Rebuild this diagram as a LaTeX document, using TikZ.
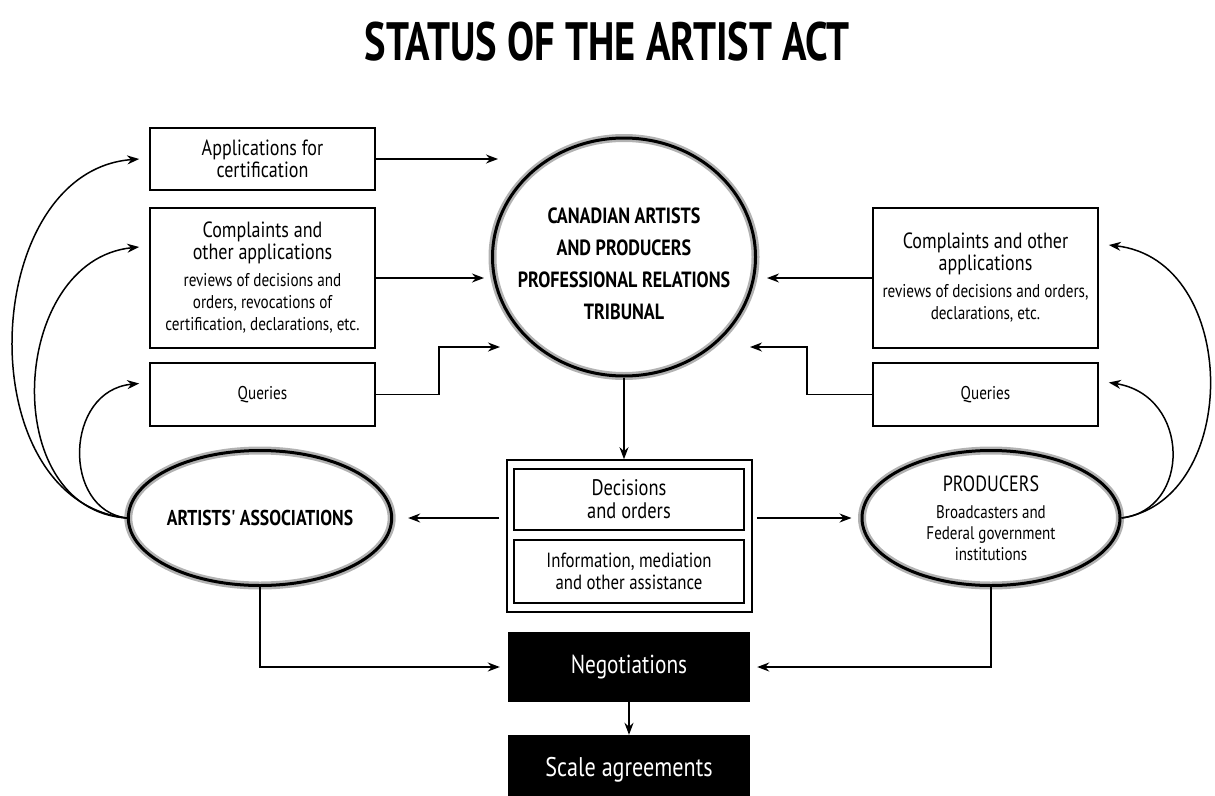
\documentclass[tikz,border=0pt]{standalone}
\usepackage{fontspec}
\setmainfont{PT Sans}
\newfontfamily\narrowfont{PT Sans}[FakeStretch=0.82]
\newfontfamily\titlefont{PT Sans}[FakeStretch=0.75]
\newcommand\smalltext{\fontsize{18.5}{21}\selectfont}
\usetikzlibrary{arrows.meta,shapes.geometric}
\tikzset{
    info-box/.style = {draw, line width=1.6pt, rectangle, minimum width=225pt, inner sep=2pt, align=center, font=\narrowfont\fontsize{22}{22}\selectfont},
    inner-box/.style = {draw, line width=1.6pt, rectangle, minimum width=230pt, inner sep=2pt, align=center, font=\narrowfont\fontsize{22.5}{23}\selectfont},
    oval-node/.style = {ellipse, draw, line width=3pt, inner sep=0pt, preaction={draw=black!30, line width=8pt}, align=center},
    dark-box/.style = {fill=black, text=white, minimum width=242pt, minimum height=70pt, font=\narrowfont\fontsize{26}{28}\selectfont},
    flow/.style = {-{Stealth[length=12pt,width=9pt]}, line width=1.5pt},
}

\begin{document}
\begin{tikzpicture}[x=1pt,y=-1pt]
\useasboundingbox (0,0) rectangle (1215,795);
\clip (0,0) rectangle (1215,795);
\node[font=\titlefont\bfseries\fontsize{54}{60}\selectfont] (title) at (607,42) {STATUS OF THE ARTIST ACT};

% tribunal
\node[oval-node, minimum width=263pt, minimum height=238pt, inner xsep=-45pt, inner ysep=-10pt, font=\narrowfont\bfseries\fontsize{22}{32}\selectfont] (trib) at (624,257)
    {\\[-3pt]CANADIAN ARTISTS\\AND PRODUCERS\\PROFESSIONAL RELATIONS\\TRIBUNAL};

% left column
\node[info-box, minimum height=62pt] (app) at (262.5,159) {Applications for\\certification};
\node[info-box, minimum height=140pt] (compl-l) at (262.5,278)
    {Complaints and\\other applications\\[5pt]\smalltext reviews of decisions and\\\smalltext orders, revocations of\\\smalltext certification, declarations, etc.};
\node[info-box, minimum height=63pt, font=\narrowfont\smalltext] (query-l) at (262.5,394.5) {Queries};

% right column
\node[info-box, minimum height=140pt] (compl-r) at (985.5,278)
    {Complaints and other\\applications\\[5pt]\smalltext reviews of decisions and orders,\\\smalltext declarations, etc.};
\node[info-box, minimum height=63pt, font=\narrowfont\smalltext] (query-r) at (985.5,394.5) {Queries};

% parties
\node[oval-node, minimum width=256pt, minimum height=135pt, font=\narrowfont\bfseries\fontsize{21.5}{24}\selectfont] (art) at (260,518) {ARTISTS' ASSOCIATIONS};
\node[oval-node, minimum width=258pt, minimum height=135pt, font=\narrowfont\fontsize{22}{21}\selectfont] (prod) at (991,518)
    {PRODUCERS\\[6pt]\fontsize{18.3}{21}\selectfont Broadcasters and\\\fontsize{18.3}{21}\selectfont Federal government\\\fontsize{18.3}{21}\selectfont institutions};

% decisions
\node[draw, line width=1.6pt, minimum width=245pt, minimum height=152pt] (dec-frame) at (629.5,536) {};
\node[inner-box, minimum height=61pt] (dec) at (629,499.5) {Decisions\\and orders};
\node[inner-box, minimum height=63pt, font=\narrowfont\fontsize{20.5}{22}\selectfont] (info) at (629,571.5) {Information, mediation\\and other assistance};

% negotiations
\node[dark-box] (neg) at (629,667) {Negotiations};
\node[dark-box, font=\narrowfont\fontsize{27}{28}\selectfont] (scale) at (629,770) {Scale agreements};

\coordinate (q-in-l) at (500,347);
\coordinate (q-in-r) at (750,347);

% into the tribunal
\draw[flow] (app.east) -- ([xshift=7pt]app.east -| trib.west);
\draw[flow, shorten >=7pt] (compl-l.east) -- (compl-l.east -| trib.west);
\draw[flow] (query-l.east) -- ++(63,0) |- (q-in-l);
\draw[flow, shorten >=10pt] (compl-r.west) -- (compl-r.west -| trib.east);
\draw[flow] (query-r.west) -- ++(-65,0) |- (q-in-r);

% out of the tribunal
\draw[flow] (trib.south) -- (trib.south |- dec-frame.north);
\draw[flow, shorten <=7pt, shorten >=15pt] (art.east -| dec-frame.west) -- (art.east);
\draw[flow, shorten <=4pt, shorten >=9pt] (prod.west -| dec-frame.east) -- (prod.west);
\draw[flow, shorten >=8pt] (art.south) |- (neg.west);
\draw[flow, shorten >=7pt] (prod.south) |- (neg.east);
\draw[flow] (neg.south) -- (scale.north);

% curved arrows from the parties
\draw[flow] (art.west) .. controls +(-160,-18) and +(-160,12) .. ([xshift=-10pt]app.west);
\draw[flow] (art.west) .. controls +(-130,-8) and +(-130,13) .. ([xshift=-10pt,yshift=31pt]compl-l.west);
\draw[flow] (art.west) .. controls +(-65,-8) and +(-75,7) .. ([xshift=-10pt,yshift=11pt]query-l.west);
\draw[flow] (prod.east) .. controls +(120,-18) and +(132,15) .. ([xshift=10pt,yshift=33pt]compl-r.east);
\draw[flow] (prod.east) .. controls +(70,-8) and +(82,13) .. ([xshift=10pt,yshift=12pt]query-r.east);
\end{tikzpicture}
\end{document}
